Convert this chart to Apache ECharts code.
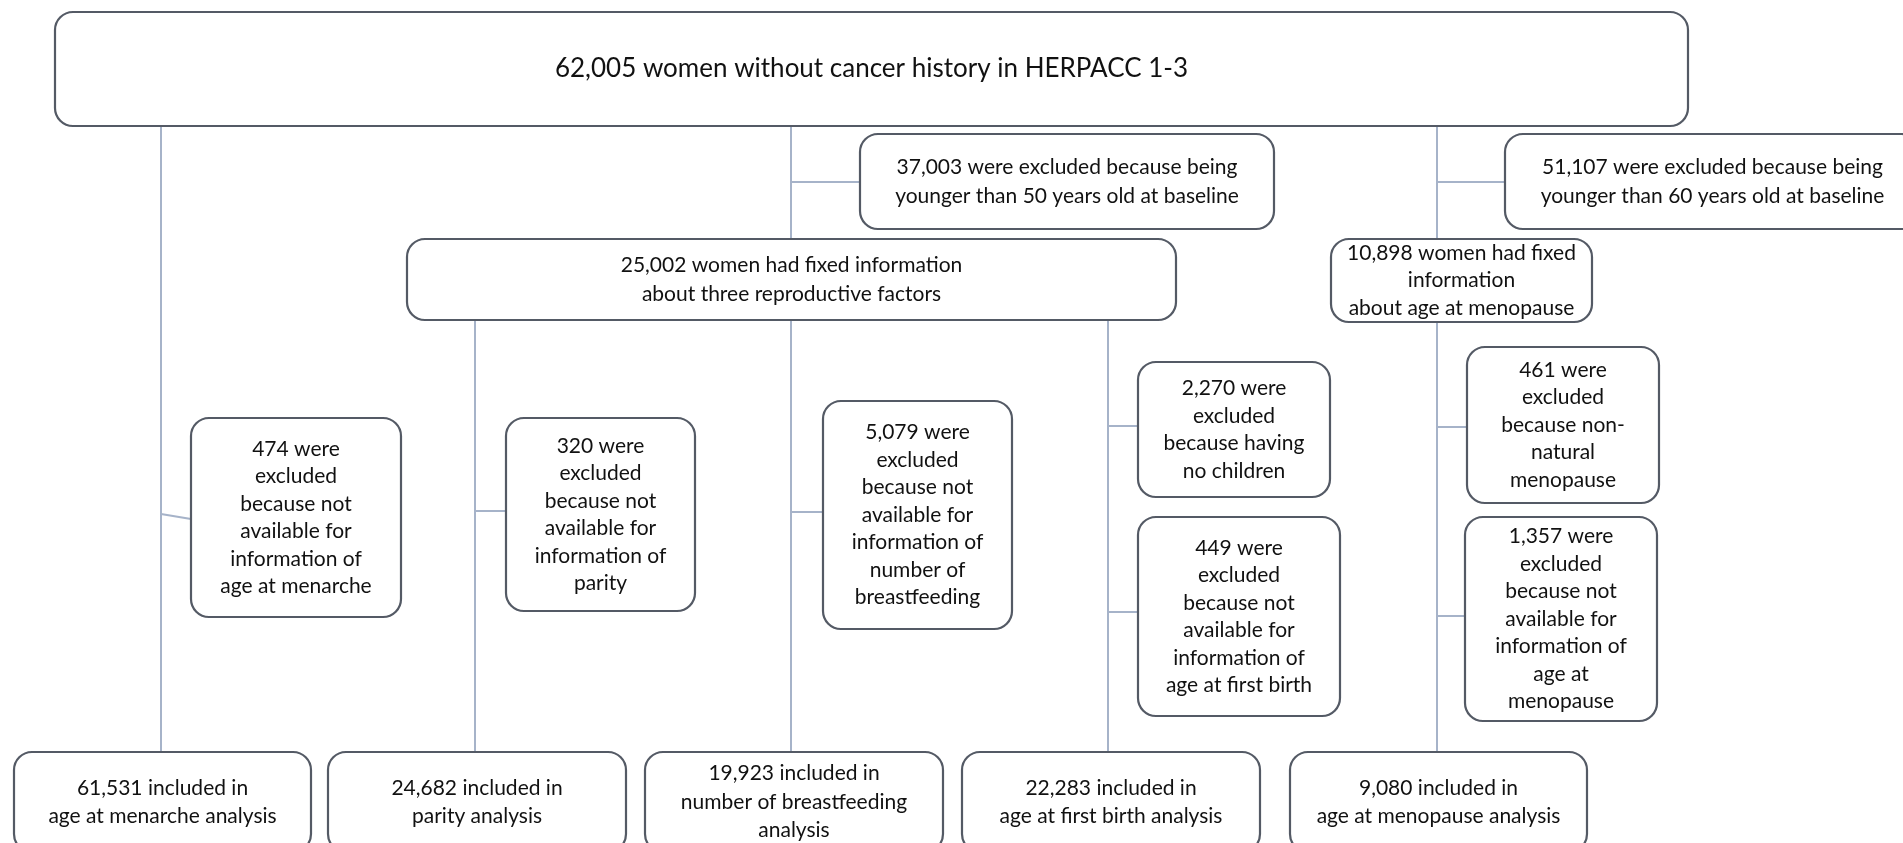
<!DOCTYPE html>
<html>
<head>
<meta charset="utf-8">
<script src="https://cdn.jsdelivr.net/npm/echarts@6/dist/echarts.min.js"></script>
<style>
html,body{margin:0;padding:0;background:#fff;}
#chart{width:1903px;height:843px;}
</style>
</head>
<body>
<div id="chart"></div>
<script>
// ---------------- DATA ----------------
const totalWomen = 62005;
const rootLabel = "women without cancer history in HERPACC 1-3";

const ageExcludedCounts = [37003, 51107];
const ageExcludedLabels = [
  "were excluded because being\nyounger than 50 years old at baseline",
  "were excluded because being\nyounger than 60 years old at baseline"
];

const subCohortCounts = [25002, 10898];
const subCohortLabels = [
  "women had fixed information\nabout three reproductive factors",
  "women had fixed\ninformation\nabout age at menopause"
];

const excludedCounts = [474, 320, 5079, 2270, 449, 461, 1357];
const excludedLabels = [
  "were\nexcluded\nbecause not\navailable for\ninformation of\nage at menarche",
  "were\nexcluded\nbecause not\navailable for\ninformation of\nparity",
  "were\nexcluded\nbecause not\navailable for\ninformation of\nnumber of\nbreastfeeding",
  "were\nexcluded\nbecause having\nno children",
  "were\nexcluded\nbecause not\navailable for\ninformation of\nage at first birth",
  "were\nexcluded\nbecause non-\nnatural\nmenopause",
  "were\nexcluded\nbecause not\navailable for\ninformation of\nage at\nmenopause"
];

const includedCounts = [61531, 24682, 19923, 22283, 9080];
const includedLabels = [
  "included in\nage at menarche analysis",
  "included in\nparity analysis",
  "included in\nnumber of breastfeeding\nanalysis",
  "included in\nage at first birth analysis",
  "included in\nage at menopause analysis"
];

// ---------------- LAYOUT (pixel space of the diagram) ----------------
const rootBox = [55, 12, 1688, 126];
const ageExcludedBoxes = [[860, 134, 1274, 229], [1505, 134, 1920, 229]];
const subCohortBoxes = [[407, 239, 1176, 320], [1331, 239, 1592, 322]];
const excludedBoxes = [
  [191, 418, 401, 617], [506, 418, 695, 611], [823, 401, 1012, 629],
  [1138, 362, 1330, 497], [1138, 517, 1340, 716],
  [1467, 347, 1659, 503], [1465, 517, 1657, 721]
];
const includedBoxes = [
  [14, 752, 311, 852], [328, 752, 626, 852], [645, 752, 943, 852],
  [962, 752, 1260, 852], [1290, 752, 1587, 852]
];
const connectorPaths = [
  [[161, 126], [161, 752]],
  [[791, 126], [791, 239]], [[791, 182], [860, 182]],
  [[1437, 126], [1437, 239]], [[1437, 182], [1505, 182]],
  [[475, 320], [475, 752]], [[791, 320], [791, 752]], [[1108, 320], [1108, 752]],
  [[1437, 322], [1437, 752]],
  [[161, 514], [191, 519]], [[475, 511], [506, 511]], [[791, 512], [823, 512]],
  [[1108, 426], [1138, 426]], [[1108, 612], [1138, 612]],
  [[1437, 427], [1467, 427]], [[1437, 616], [1465, 616]]
];

// ---------------- BUILD ----------------
const fmt = n => n.toLocaleString('en-US');
const FONT = 'Lato, "Liberation Sans", sans-serif';
const boxes = [];
function addBox(rect, text, fontSize, lineHeight) {
  boxes.push({ rect, text, fontSize, lineHeight });
}
addBox(rootBox, fmt(totalWomen) + " " + rootLabel, 26, 30);
ageExcludedCounts.forEach((c, i) => addBox(ageExcludedBoxes[i], fmt(c) + " " + ageExcludedLabels[i], 21, 28.5));
subCohortCounts.forEach((c, i) => addBox(subCohortBoxes[i], fmt(c) + " " + subCohortLabels[i], 21, i === 0 ? 28.5 : 27.5));
excludedCounts.forEach((c, i) => addBox(excludedBoxes[i], fmt(c) + " " + excludedLabels[i], 21, 27.5));
includedCounts.forEach((c, i) => addBox(includedBoxes[i], fmt(c) + " " + includedLabels[i], 21, 28.3));

const chart = echarts.init(document.getElementById('chart'), null, { renderer: 'canvas' });
chart.setOption({
  animation: false,
  backgroundColor: '#ffffff',
  grid: { left: 0, right: 0, top: 0, bottom: 0 },
  xAxis: { type: 'value', min: 0, max: 1903, show: false },
  yAxis: { type: 'value', min: 0, max: 843, inverse: true, show: false },
  series: [
    {
      type: 'custom',
      name: 'connectors',
      silent: true,
      data: connectorPaths.map((p, i) => [i]),
      renderItem: function (params, api) {
        const path = connectorPaths[api.value(0)];
        const pts = path.map(pt => api.coord(pt));
        return {
          type: 'polyline',
          shape: { points: pts },
          style: { stroke: '#a6b3c9', lineWidth: 2, fill: null }
        };
      },
      z: 1
    },
    {
      type: 'custom',
      name: 'boxes',
      silent: true,
      clip: false,
      data: boxes.map((b, i) => [i]),
      renderItem: function (params, api) {
        const b = boxes[api.value(0)];
        const p0 = api.coord([b.rect[0], b.rect[1]]);
        const p1 = api.coord([b.rect[2], b.rect[3]]);
        return {
          type: 'group',
          children: [
            {
              type: 'rect',
              shape: { x: p0[0], y: p0[1], width: p1[0] - p0[0], height: p1[1] - p0[1], r: 18 },
              style: { fill: '#ffffff', stroke: '#545a65', lineWidth: 2.2 }
            },
            {
              type: 'text',
              style: {
                text: b.text,
                x: (p0[0] + p1[0]) / 2,
                y: (p0[1] + p1[1]) / 2,
                align: 'center',
                verticalAlign: 'middle',
                fontFamily: FONT,
                fontSize: b.fontSize,
                lineHeight: b.lineHeight,
                fill: '#111111'
              }
            }
          ]
        };
      },
      z: 2
    }
  ]
});
</script>
</body>
</html>
